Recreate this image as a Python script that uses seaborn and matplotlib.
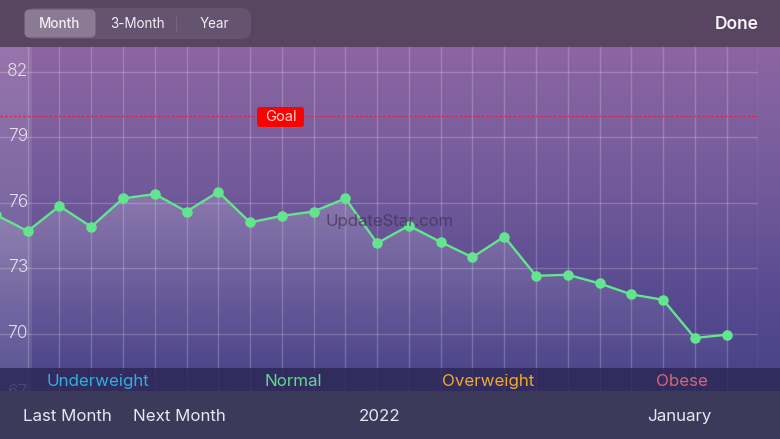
import numpy as np
import pandas as pd
import seaborn as sns
import matplotlib
matplotlib.use("Agg")
import matplotlib.pyplot as plt
from matplotlib.patches import FancyBboxPatch, Rectangle, Polygon
from matplotlib.colors import LinearSegmentedColormap
from matplotlib.transforms import offset_copy

sns.set_theme(style="white")
plt.rcParams['font.family'] = ['Inter', 'DejaVu Sans']

# ---- data ----
day_index = list(range(-1, 23))
weights = [75.45, 74.7, 75.85, 74.9, 76.2, 76.4, 75.6, 76.5, 75.1, 75.4, 75.6, 76.2,
           74.15, 74.95, 74.2, 73.5, 74.45, 72.65, 72.7, 72.3, 71.8, 71.55, 69.8, 69.95]
y_ticks = [67, 70, 73, 76, 79, 82]
goal_value = 80
segments = ["Month", "3-Month", "Year"]
categories = ["Underweight", "Normal", "Overweight", "Obese"]
category_colors = ["#2fb0e0", "#62d893", "#f0a92e", "#d0687a"]

W, H = 780, 439
fig = plt.figure(figsize=((W + 0.01) / 100, (H + 0.01) / 100), dpi=100)

# background gradient
bg = fig.add_axes([0, 0, 1, 1], zorder=0)
bg.set_axis_off()
cmap = LinearSegmentedColormap.from_list("bg", ["#8d65a3", "#7d5f9e", "#6b5698", "#56498f", "#484287"])
bg.imshow(np.linspace(0, 1, 256)[:, None], cmap=cmap, aspect="auto",
          extent=[0, W, 391, 47], zorder=0)
bg.imshow(np.array([[[1, 1, 1, 0.10]]]), aspect="auto", extent=[0, 31, 391, 47], zorder=1)
bg.set_xlim(0, W)
bg.set_ylim(H, 0)

# main chart: axes spans pixel x 0..758, y 47..439 (lower part hidden by the bottom bar)
ax = fig.add_axes([0, 0, 758.4 / W, (H - 47) / H], zorder=1)
ax.patch.set_alpha(0)
step = 31.77
unit = 21.8
x_limits = (-27.7 / step, 23)
y_limits = (82 - (H - 72) / unit, 82 + (72 - 47) / unit)
area_floor = 82 - (391 - 72) / unit

df = pd.DataFrame({"day": day_index, "weight": weights})

# area under the line, fading downward
fade = np.zeros((256, 1, 4))
fade[..., :3] = 1
fade[..., 3] = np.linspace(0.19, 0.0, 256)[:, None]
im = ax.imshow(fade, aspect="auto", extent=[-1, 22, area_floor, max(weights)], origin="upper", zorder=1)
poly = Polygon(list(zip(day_index, weights)) + [(22, area_floor), (-1, area_floor)], closed=True,
               transform=ax.transData, fc="none", ec="none")
ax.add_patch(poly)
im.set_clip_path(poly)

# goal line
ax.axhline(goal_value, color="#d9264f", lw=0.9, ls=(0, (2, 1.6)), zorder=2)

# series
sns.lineplot(data=df, x="day", y="weight", ax=ax, color="#64e48e", lw=1.7,
             marker="o", markersize=7.6, markeredgewidth=0, zorder=4, legend=False)
ax.set_xlabel("")
ax.set_ylabel("")

# scales and grid; limits last because set_*ticks can widen them
ax.set_xticks(range(0, 24))
ax.set_yticks(y_ticks)
ax.set_xlim(*x_limits)
ax.set_ylim(*y_limits)
ax.grid(True, color="white", alpha=0.2, lw=1.0)
ax.set_axisbelow(True)
ax.tick_params(axis="x", labelbottom=False, length=0)
ax.tick_params(axis="y", length=0, pad=-28 * 0.72, labelsize=12.6, labelcolor="#e6dcec")
for tick_value, tick in zip(y_ticks, ax.yaxis.get_major_ticks()):
    lab = tick.label1
    lab.set_ha("right")
    lab.set_fontweight(300)
    # labels sit a little above their grid lines; the lowest is mostly hidden by the bar
    lift = 6.0 if tick_value == 67 else 1.8
    lab.set_transform(offset_copy(lab.get_transform(), fig=fig, y=lift, units="points"))
for s in ax.spines.values():
    s.set_visible(False)

# overlay for chrome, in pixel coordinates
ov = fig.add_axes([0, 0, 1, 1], zorder=5)
ov.set_xlim(0, W)
ov.set_ylim(H, 0)
ov.set_axis_off()
ov.patch.set_alpha(0)

ov.add_patch(Rectangle((0, 0), W, 47, fc="#584560", ec="none"))
ov.add_patch(Rectangle((0, 368), W, 23, fc="#2c2755", ec="none", alpha=0.82))
ov.add_patch(Rectangle((0, 391), W, 48, fc="#3c3a5b", ec="none"))

# segmented control
ov.add_patch(FancyBboxPatch((27, 10), 222, 27, boxstyle="round,pad=0,rounding_size=8",
                            fc="#65546f", ec="#65546f", lw=3))
ov.add_patch(FancyBboxPatch((24.5, 9.5), 71, 28, boxstyle="round,pad=0,rounding_size=5",
                            fc="#8a7b92", ec="none"))
ov.plot([175.5, 175.5], [16, 32], color="#77667f", lw=0.8)
for name, x, weight in zip(segments, [59.5, 137, 214], [550, 400, 400]):
    ov.text(x, 24, name, ha="center", va="center", color="#f3eef5", fontsize=9.7, fontweight=weight)
ov.text(737, 24, "Done", ha="center", va="center", color="#f8f2fa", fontsize=12.5, fontweight=600)

# goal badge
ov.add_patch(FancyBboxPatch((257, 107), 47, 20, boxstyle="round,pad=0,rounding_size=3",
                            fc="#ff0000", ec="none"))
ov.text(280.5, 117, "Goal", ha="center", va="center", color="#ffd8d8", fontsize=10.6)

# watermark
ov.text(390, 221, "UpdateStar.com", ha="center", va="center", color="#3e3350",
        alpha=0.7, fontsize=12)

# categories
for name, c, x in zip(categories, category_colors, [98, 293, 488, 682]):
    ov.text(x, 381, name, ha="center", va="center", color=c, fontsize=12.2)

# bottom bar
for name, x in zip(["Last Month", "Next Month", "2022", "January"], [67, 179.5, 379.5, 679]):
    ov.text(x, 416, name, ha="center", va="center", color="#e8e6f2", fontsize=12.2)

fig.savefig("out.png", dpi=100)
